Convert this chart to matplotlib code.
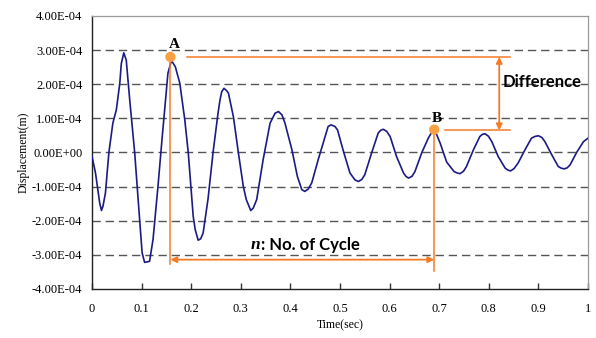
import matplotlib
matplotlib.use("Agg")
import matplotlib.pyplot as plt
import matplotlib.ticker as mticker

# displacement record (time in s, displacement in 1e-4 m)
time_s = [
    0.000, 0.007, 0.0155, 0.019, 0.022, 0.027, 0.034, 0.042, 0.049, 0.056,
    0.059, 0.064, 0.069, 0.076, 0.086, 0.094, 0.101, 0.106, 0.116, 0.123,
    0.133, 0.141, 0.153, 0.160, 0.168, 0.177, 0.187, 0.194, 0.204, 0.208,
    0.214, 0.219, 0.224, 0.234, 0.244, 0.254, 0.258, 0.2615, 0.266, 0.2715,
    0.275, 0.285, 0.295, 0.305, 0.311, 0.320, 0.325, 0.332, 0.345, 0.359,
    0.369, 0.376, 0.383, 0.389, 0.403, 0.414, 0.423, 0.429, 0.436, 0.443,
    0.456, 0.470, 0.476, 0.482, 0.490, 0.495, 0.507, 0.520, 0.530, 0.537,
    0.544, 0.550, 0.564, 0.577, 0.582, 0.587, 0.594, 0.601, 0.614, 0.628,
    0.633, 0.638, 0.645, 0.651, 0.665, 0.678, 0.684, 0.689, 0.695, 0.702,
    0.715, 0.730, 0.736, 0.742, 0.749, 0.755, 0.769, 0.782, 0.787, 0.792,
    0.799, 0.806, 0.819, 0.833, 0.839, 0.844, 0.851, 0.859, 0.873, 0.886,
    0.893, 0.900, 0.907, 0.913, 0.927, 0.940, 0.946, 0.952, 0.958, 0.964,
    0.977, 0.991, 1.000,
]
disp_e4 = [
    -0.12, -0.60, -1.48, -1.70, -1.58, -1.19, 0.00, 0.86, 1.25, 2.03,
    2.60, 2.92, 2.71, 1.54, 0.00, -1.58, -2.94, -3.22, -3.19, -2.55,
    -0.99, 0.37, 2.32, 2.70, 2.51, 2.03, 0.96, 0.00, -1.87, -2.26,
    -2.57, -2.53, -2.36, -1.35, 0.00, 1.15, 1.54, 1.78, 1.88, 1.81,
    1.74, 1.05, 0.00, -0.99, -1.38, -1.70, -1.63, -1.38, -0.21, 0.86,
    1.15, 1.20, 1.10, 0.86, 0.08, -0.70, -1.09, -1.14, -1.07, -0.89,
    -0.21, 0.47, 0.76, 0.81, 0.76, 0.66, 0.03, -0.60, -0.80, -0.85,
    -0.79, -0.65, 0.00, 0.57, 0.65, 0.68, 0.62, 0.47, -0.12, -0.60,
    -0.70, -0.75, -0.70, -0.56, 0.00, 0.42, 0.57, 0.63, 0.52, 0.27,
    -0.28, -0.56, -0.60, -0.62, -0.55, -0.41, 0.08, 0.47, 0.53, 0.55,
    0.48, 0.32, -0.12, -0.46, -0.52, -0.54, -0.47, -0.31, 0.08, 0.42,
    0.47, 0.49, 0.44, 0.32, -0.07, -0.41, -0.46, -0.48, -0.45, -0.36,
    0.00, 0.32, 0.42,
]
disp = [v * 1e-4 for v in disp_e4]

# marked peaks A and B
peak_labels = ["A", "B"]
peak_t = [0.158, 0.690]
peak_y = [2.80e-4, 0.67e-4]

y_ticks = [-4e-4, -3e-4, -2e-4, -1e-4, 0.0, 1e-4, 2e-4, 3e-4, 4e-4]
x_ticks = [0, 0.1, 0.2, 0.3, 0.4, 0.5, 0.6, 0.7, 0.8, 0.9, 1.0]

LINE = "#1c1a84"
ORANGE = "#f47a28"
DOT = "#f9a042"
SERIF = "Liberation Serif"
SANS = "Lato"

fig = plt.figure(figsize=(5.96, 3.38), dpi=100)
ax = fig.add_axes([0.1544, 0.145, 0.8322, 0.8077])

for y in y_ticks[1:-1]:
    ax.axhline(y, color="#555555", lw=1.0, ls=(0, (6, 3.5)), zorder=1)

ax.plot(time_s, disp, color=LINE, lw=1.2, zorder=3, solid_joinstyle="round")

ax.set_xlim(0, 1)
ax.set_ylim(-4e-4, 4e-4)
ax.set_xticks(x_ticks)
ax.set_yticks(y_ticks)
ax.xaxis.set_major_formatter(mticker.FuncFormatter(lambda v, p: f"{v:g}"))
ax.yaxis.set_major_formatter(mticker.FuncFormatter(lambda v, p: f"{v:.2E}"))
ax.tick_params(axis="x", direction="in", length=4, width=1, pad=10,
               labelsize=9, labelfontfamily=SERIF, color="#333333")
ax.tick_params(axis="y", length=0, pad=7, labelsize=9, labelfontfamily=SERIF)

for side in ["top", "right"]:
    ax.spines[side].set_color("#999999")
    ax.spines[side].set_linewidth(0.9)
for side in ["left", "bottom"]:
    ax.spines[side].set_color("#222222")
    ax.spines[side].set_linewidth(1.0)

ax.set_xlabel("Time(sec)", family=SERIF, fontsize=8.5, labelpad=3)
ax.set_ylabel("Displacement(m)", family=SERIF, fontsize=8.5, labelpad=2)

# peak markers
(ta, tb), (ya, yb) = peak_t, peak_y
ax.scatter(peak_t, peak_y, s=55, color=DOT, zorder=5, edgecolors="none")
ax.text(ta + 0.008, ya + 0.18e-4, peak_labels[0], family=SERIF, fontsize=11,
        fontweight="bold", ha="center", va="bottom")
ax.text(tb + 0.005, yb + 0.15e-4, peak_labels[1], family=SERIF, fontsize=11,
        fontweight="bold", ha="center", va="bottom")

# vertical guide lines from the peaks
ax.plot([ta, ta], [ya - 0.12e-4, -3.28e-4], color=ORANGE, lw=1.1, zorder=4)
ax.plot([tb, tb], [yb - 0.1e-4, -3.48e-4], color=ORANGE, lw=1.1, zorder=4)

# horizontal reference lines for the difference
ax.plot([0.191, 0.843], [ya, ya], color=ORANGE, lw=1.1, zorder=4)
ax.plot([0.712, 0.843], [yb - 0.02e-4, yb - 0.02e-4], color=ORANGE, lw=1.1, zorder=4)
ax.annotate("", xy=(0.821, yb - 0.02e-4), xytext=(0.821, ya),
            arrowprops=dict(arrowstyle="<|-|>", color=ORANGE, lw=1.3,
                            mutation_scale=9, shrinkA=0, shrinkB=0), zorder=4)
ax.text(0.828, 2.08e-4, "Difference", family=SANS, fontsize=12,
        fontweight="bold", ha="left", va="center")

# cycle count arrow
ax.annotate("", xy=(ta, -3.14e-4), xytext=(tb, -3.14e-4),
            arrowprops=dict(arrowstyle="<|-|>", color=ORANGE, lw=1.3,
                            mutation_scale=9, shrinkA=0, shrinkB=0), zorder=4)
ax.text(0.340, -2.70e-4, "n", family=SERIF, fontsize=12.5, fontstyle="italic",
        fontweight="bold", ha="right", va="center")
ax.text(0.341, -2.70e-4, ": No. of Cycle", family=SANS, fontsize=12,
        fontweight="bold", ha="left", va="center")

fig.savefig("out.png", dpi=100)
